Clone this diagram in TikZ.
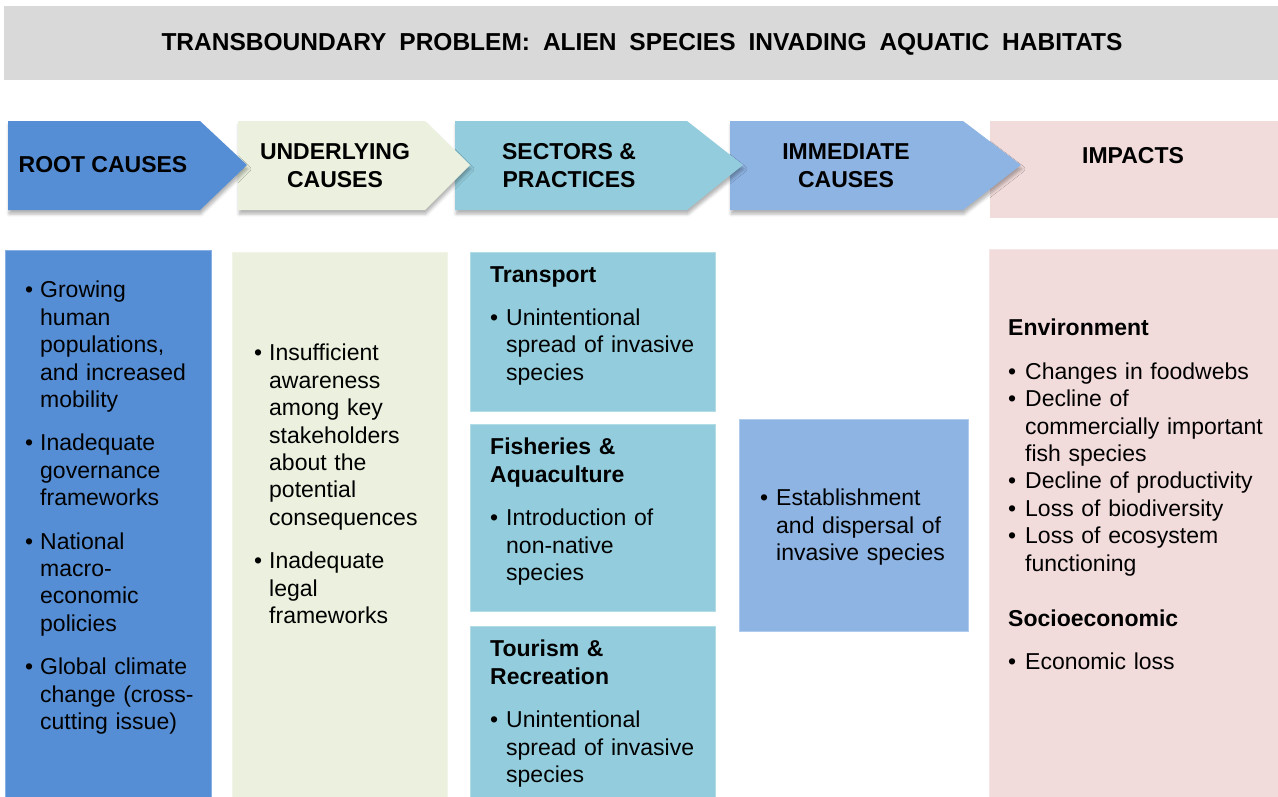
\documentclass[tikz,border=0pt]{standalone}
\usepackage{fontspec}
\setmainfont{Liberation Sans}
\newfontfamily\titlefont[WordSpace=1.9]{Liberation Sans}
\usetikzlibrary{
    positioning, % posicionamento relativo
    shadows.blur % sombras suaves
}
\setlength{\parindent}{0pt}
\setlength{\parskip}{0pt}

\definecolor{titlegray}{HTML}{D9D9D9}
\definecolor{rootblue}{HTML}{558ED5}
\definecolor{underpale}{HTML}{EBF1DE}
\definecolor{sectorteal}{HTML}{93CDDD}
\definecolor{immblue}{HTML}{8EB4E3}
\definecolor{impactpink}{HTML}{F2DCDB}

% text sizes
\newcommand{\bodyfont}{\fontsize{23}{27.4}\selectfont}
\newcommand{\headfont}{\fontsize{23}{28}\selectfont\bfseries}
% bullet items, line breaks and gaps
\newcommand{\bulmark}[1][15pt]{\hangindent=#1\hangafter=1\noindent\makebox[#1][l]{\textbullet}\ignorespaces}
\newcommand{\bul}{\par\bulmark}
\newcommand{\nl}{\newline}
\newcommand{\gap}[1][16pt]{\par\vspace{#1}}

\begin{document}
\begin{tikzpicture}[
    x=1pt, y=-1pt,
    chevron/.style={
        fill=#1,
        blur shadow={shadow xshift=1pt, shadow yshift=-4pt,
            shadow opacity=30, shadow blur radius=3pt}
    },
    panel/.style={
        fill=#1,
        draw=#1!70!white,
        line width=0.8pt
    },
    headlabel/.style={
        font=\headfont,
        align=center,
        inner sep=0pt
    },
    bodytext/.style={
        anchor=north west,
        inner sep=0pt,
        align=left,
        text width=#1,
        font=\bodyfont
    }
]
\useasboundingbox (0,0) rectangle (1278,796);

% Title band
\fill[titlegray] (4,6) rectangle (1278,80);
\node[font=\titlefont\fontsize{24.5}{28}\selectfont\bfseries]
    (title) at (642,44)
{TRANSBOUNDARY PROBLEM: ALIEN SPECIES INVADING AQUATIC HABITATS};

% Header chevrons (right to left, each tip lies over its neighbour)
\fill[impactpink] (990,121) rectangle (1278,218);
\fill[chevron=immblue] (730,121) -- (963,121) -- (1021,165)
    -- (963,210) -- (730,210) -- cycle;
\fill[chevron=sectorteal] (455,121) -- (687,121) -- (743,165)
    -- (687,210) -- (455,210) -- cycle;
\fill[chevron=underpale] (238,121) -- (425,121) -- (470,165)
    -- (425,210) -- (238,210) -- cycle;
\fill[chevron=rootblue] (8,121) -- (200,121) -- (247,165)
    -- (200,210) -- (8,210) -- cycle;

\node[headlabel] (rootlabel) at (103,165) {ROOT CAUSES};
\node[headlabel] (underlabel) at (335,166) {UNDERLYING\\CAUSES};
\node[headlabel] (sectorlabel) at (569,166) {SECTORS \&\\PRACTICES};
\node[headlabel] (immlabel) at (846,166) {IMMEDIATE\\CAUSES};
\node[headlabel] (impactlabel) at (1133,156) {IMPACTS};

% Column panels
\path[panel=rootblue] (5,250) rectangle (211,800);
\path[panel=underpale] (232,252) rectangle (447,800);
\path[panel=sectorteal] (470,252) rectangle (715,411);
\path[panel=sectorteal] (470,424) rectangle (715,611);
\path[panel=sectorteal] (470,626) rectangle (715,800);
\path[panel=immblue] (739,419) rectangle (968,631);
\path[panel=impactpink] (989,249) rectangle (1282,800);

% Root causes
\node[bodytext=200] (roottext) at (25,281)
{\bulmark Growing\nl human\nl populations,\nl and increased\nl mobility
\gap\bul Inadequate\nl governance\nl frameworks
\gap\bul National\nl macro-\nl economic\nl policies
\gap\bul Global climate\nl change (cross-\nl cutting issue)\par};

% Underlying causes
\node[bodytext=200] (undertext) at (254,344)
{\bulmark Insufficient\nl awareness\nl among key\nl stakeholders\nl about the\nl potential\nl consequences
\gap\bul Inadequate\nl legal\nl frameworks\par};

% Sectors and practices
\node[bodytext=230] (transport) at (490,266)
{\textbf{Transport}
\gap\bul[16pt] Unintentional\nl spread of invasive\nl species\par};

\node[bodytext=230] (fisheries) at (490,438)
{\textbf{Fisheries \&\nl Aquaculture}
\gap\bul[16pt] Introduction of\nl non-native\nl species\par};

\node[bodytext=230] (tourism) at (490,640)
{\textbf{Tourism \&\nl Recreation}
\gap\bul[16pt] Unintentional\nl spread of invasive\nl species\par};

% Immediate causes
\node[bodytext=220] (immtext) at (760,489)
{\bulmark[16pt] Establishment\nl and dispersal of\nl invasive species\par};

% Impacts
\node[bodytext=265] (impacttext) at (1008,319)
{\textbf{Environment}
\gap\bul[17pt] Changes in foodwebs
\bul[17pt] Decline of\nl commercially important\nl fish species
\bul[17pt] Decline of productivity
\bul[17pt] Loss of biodiversity
\bul[17pt] Loss of ecosystem\nl functioning
\gap[28pt]\textbf{Socioeconomic}
\gap\bul[17pt] Economic loss\par};

\end{tikzpicture}
\end{document}
